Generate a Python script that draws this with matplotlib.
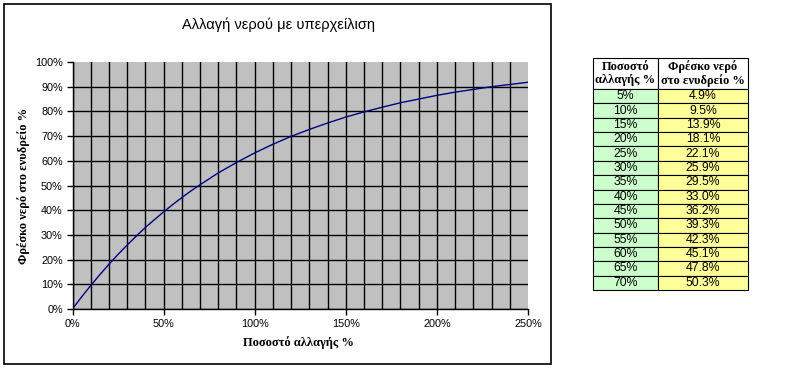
import matplotlib
matplotlib.use("Agg")
import matplotlib.pyplot as plt
from matplotlib.patches import Rectangle
from matplotlib.ticker import MultipleLocator, PercentFormatter

# table values (percent)
change_pct = [5, 10, 15, 20, 25, 30, 35, 40, 45, 50, 55, 60, 65, 70]
fresh_pct = [4.9, 9.5, 13.9, 18.1, 22.1, 25.9, 29.5, 33.0, 36.2, 39.3, 42.3, 45.1, 47.8, 50.3]

# rest of the curve
curve_start_x = [1]
curve_start_y = [1.0]
curve_tail_x = [80, 90, 100, 110, 120, 130, 140, 150, 160, 170, 180, 190, 200,
                210, 220, 230, 240, 250]
curve_tail_y = [55.1, 59.3, 63.2, 66.7, 69.9, 72.7, 75.3, 77.7, 79.8, 81.7, 83.5,
                85.0, 86.5, 87.8, 88.9, 90.0, 90.9, 91.8]

title = "Αλλαγή νερού με υπερχείλιση"
xlabel = "Ποσοστό αλλαγής %"
ylabel = "Φρέσκο νερό στο ενυδρείο %"
col_labels = ["Ποσοστό\nαλλαγής %", "Φρέσκο νερό\nστο ενυδρείο %"]

W, H = 800, 370
fig = plt.figure(figsize=(8, 3.7), dpi=100)
fig.patch.set_facecolor("white")

def fx(px):
    return px / W

def fy(py):
    return 1 - py / H

# chart area border
fig.patches.append(Rectangle((fx(4), fy(364)), fx(551) - fx(4), fy(4) - fy(364),
                             transform=fig.transFigure, fill=False,
                             edgecolor="black", lw=1.2, zorder=0))

ax = fig.add_axes([fx(72.5), fy(309), fx(528) - fx(72.5), fy(62) - fy(309)])
ax.set_facecolor("#C0C0C0")

xs = curve_start_x + change_pct + curve_tail_x
ys = curve_start_y + fresh_pct + curve_tail_y
ax.plot(xs, ys, color="#000080", lw=1.0, zorder=3)

ax.set_xlim(0, 250)
ax.set_ylim(0, 100)
ax.xaxis.set_major_locator(MultipleLocator(50))
ax.xaxis.set_minor_locator(MultipleLocator(10))
ax.yaxis.set_major_locator(MultipleLocator(10))
ax.xaxis.set_major_formatter(PercentFormatter(decimals=0))
ax.yaxis.set_major_formatter(PercentFormatter(decimals=0))
ax.grid(which="major", axis="y", color="black", lw=1.0)
ax.grid(which="both", axis="x", color="black", lw=1.0)
ax.set_axisbelow(True)

for side in ["top", "right"]:
    ax.spines[side].set_visible(False)
for side in ["left", "bottom"]:
    ax.spines[side].set_linewidth(1.0)

ax.tick_params(which="major", direction="out", length=4, width=1, pad=3,
               labelsize=7.8, colors="black")
ax.tick_params(which="minor", length=0)
for lab in ax.get_xticklabels() + ax.get_yticklabels():
    lab.set_fontfamily("Liberation Sans")

# no dark line along the top and right edges of the plot area
fig.canvas.draw()
for t in ax.yaxis.get_major_ticks():
    if t.get_loc() >= 100:
        t.gridline.set_visible(False)
for t in ax.xaxis.get_major_ticks() + ax.xaxis.get_minor_ticks():
    if t.get_loc() >= 250:
        t.gridline.set_visible(False)

fig.text(fx(278), fy(25), title, ha="center", va="center",
         fontsize=10.5, family="Liberation Sans")
fig.text(fx(298), fy(343), xlabel, ha="center", va="center",
         fontsize=9, family="Liberation Serif", fontweight="bold")
fig.text(fx(24), fy(186), ylabel, ha="center", va="center", rotation=90,
         fontsize=9, family="Liberation Serif", fontweight="bold")

# side table
tax = fig.add_axes([fx(593), fy(290), fx(748) - fx(593), fy(58) - fy(290)])
tax.axis("off")
cells = [[f"{c}%", f"{f:.1f}%"] for c, f in zip(change_pct, fresh_pct)]
colours = [["#CCFFCC", "#FFFF99"] for _ in cells]
tbl = tax.table(cellText=cells, colLabels=col_labels, cellColours=colours,
                colColours=["white", "white"], colWidths=[65 / 155, 90 / 155],
                cellLoc="center", bbox=[0, 0, 1, 1])
tbl.auto_set_font_size(False)
head_h = 31 / 232
row_h = (1 - head_h) / len(cells)
for (r, c), cell in tbl.get_celld().items():
    cell.set_linewidth(0.8)
    cell.set_edgecolor("black")
    if r == 0:
        cell.set_height(head_h)
        cell.get_text().set_fontsize(9)
        cell.get_text().set_fontfamily("Liberation Serif")
        cell.get_text().set_fontweight("bold")
        cell.get_text().set_linespacing(1.1)
    else:
        cell.set_height(row_h)
        cell.get_text().set_fontsize(8.8)
        cell.get_text().set_fontfamily("Liberation Sans")

fig.savefig("out.png", dpi=100, facecolor="white")
